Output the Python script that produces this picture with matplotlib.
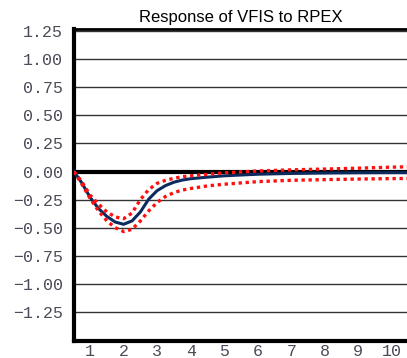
import numpy as np
import matplotlib
matplotlib.use("Agg")
import matplotlib.pyplot as plt

# impulse response values
periods = [0.52, 0.75, 1.0, 1.25, 1.5, 1.75, 2.0, 2.25, 2.5, 2.75, 3.0, 3.25, 3.5,
           3.75, 4.0, 4.5, 5.0, 6.0, 7.0, 8.0, 9.0, 10.0, 10.45]
response = [0.0, -0.10, -0.23, -0.33, -0.40, -0.45, -0.47, -0.44, -0.36, -0.245,
            -0.17, -0.125, -0.095, -0.076, -0.064, -0.05, -0.038, -0.024, -0.017,
            -0.013, -0.011, -0.010, -0.010]
upper = [0.0, -0.09, -0.21, -0.29, -0.36, -0.405, -0.42, -0.37, -0.25, -0.16,
         -0.105, -0.078, -0.06, -0.047, -0.038, -0.025, -0.012, 0.005, 0.015,
         0.022, 0.030, 0.039, 0.042]
lower = [0.0, -0.11, -0.24, -0.35, -0.44, -0.50, -0.535, -0.515, -0.44, -0.35,
         -0.275, -0.222, -0.188, -0.165, -0.151, -0.128, -0.113, -0.090, -0.078,
         -0.072, -0.067, -0.063, -0.062]

yticks = [1.25, 1.00, 0.75, 0.50, 0.25, 0.00, -0.25, -0.50, -0.75, -1.00, -1.25]
xticks = [1, 2, 3, 4, 5, 6, 7, 8, 9, 10]

fig = plt.figure(figsize=(4.07, 3.58), dpi=100)
ax = fig.add_axes([74 / 407, 1 - 341 / 358, 1 - 74 / 407, (341 - 29) / 358])

# horizontal grid
for y in yticks:
    if y != 0:
        ax.axhline(y, color="#333333", lw=1.0, zorder=1)
ax.axhline(0, color="black", lw=3, zorder=2)

ax.plot(periods, response, color="#0b2a5e", lw=2.2, zorder=3, solid_joinstyle="round")
ax.plot(periods, upper, color="#ff1010", lw=2.4, ls=(0, (1, 1.1)), zorder=4)
ax.plot(periods, lower, color="#ff1010", lw=2.4, ls=(0, (1, 1.1)), zorder=4)

ax.set_xlim(0.52, 10.45)
ax.set_ylim(-1.51, 1.27)

ax.set_yticks(yticks)
ax.set_yticklabels(["%.2f" % v if v >= 0 else "\u2212%.2f" % abs(v) for v in yticks])
ax.set_xticks(xticks)
ax.set_xticklabels([str(v) for v in xticks])
ax.tick_params(axis="both", length=0, labelsize=12, labelcolor="#4a4a58")
ax.tick_params(axis="y", pad=8)
ax.tick_params(axis="x", pad=2)
for lab in ax.get_xticklabels() + ax.get_yticklabels():
    lab.set_family("Liberation Mono")

ax.spines["right"].set_visible(False)
ax.spines["left"].set_linewidth(3)
ax.spines["bottom"].set_linewidth(3)
ax.spines["top"].set_linewidth(2)

ax.set_title("Response of VFIS to RPEX", fontsize=12, family="Liberation Sans", pad=5)

fig.savefig("out.png", dpi=100)
